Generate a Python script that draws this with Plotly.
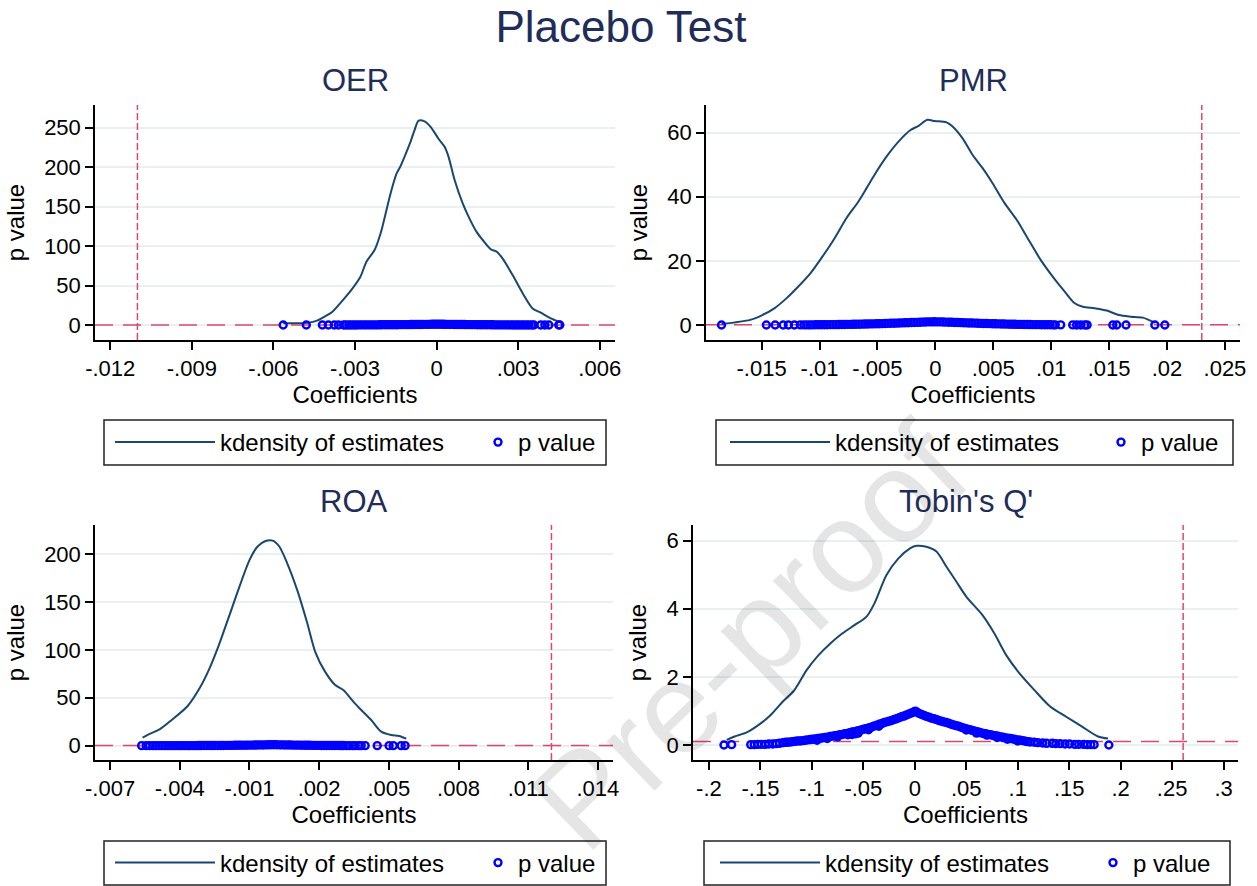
import plotly.graph_objects as go

W, H = 1257, 886

# ---------------- data ----------------
# kernel densities of the placebo estimates (coefficient, density)
oer_kd = [(-0.00564, 2.1), (-0.00471, 3.0), (-0.00440, 5.5), (-0.00412, 10.6), (-0.00383, 16.9),
          (-0.00339, 33.8), (-0.00309, 46.5), (-0.00280, 61.2), (-0.00258, 80.2), (-0.00228, 95.0),
          (-0.00206, 116.0), (-0.00184, 146.0), (-0.00169, 167.0), (-0.00147, 192.0), (-0.00133, 201.0),
          (-0.00118, 213.0), (-0.00096, 232.0), (-0.00081, 247.0), (-0.00066, 259.0), (-0.00044, 258.0),
          (-0.00022, 251.0), (0.00007, 236.0), (0.00029, 226.0), (0.00044, 213.0), (0.00066, 184.0),
          (0.00096, 154.0), (0.00118, 137.0), (0.00147, 118.0), (0.00169, 108.0), (0.00199, 96.0),
          (0.00221, 93.0), (0.00243, 84.0), (0.00280, 63.0), (0.00317, 40.0), (0.00353, 21.0),
          (0.00383, 15.6), (0.00420, 8.4), (0.00449, 4.2)]

pmr_kd = [(-0.01846, 0.3), (-0.01598, 1.6), (-0.01494, 3.1), (-0.01390, 5.2), (-0.01286, 8.3),
          (-0.01183, 12.0), (-0.01079, 16.1), (-0.00975, 21.3), (-0.00871, 27.0), (-0.00768, 33.3),
          (-0.00664, 38.5), (-0.00595, 42.6), (-0.00526, 46.8), (-0.00422, 52.5), (-0.00318, 57.2),
          (-0.00214, 60.8), (-0.00145, 62.1), (-0.00069, 64.0), (-0.00007, 63.6), (0.00097, 63.2),
          (0.00149, 61.9), (0.00235, 58.2), (0.00322, 53.0), (0.00408, 48.9), (0.00494, 44.2),
          (0.00598, 38.0), (0.00702, 32.8), (0.00806, 26.5), (0.00909, 20.3), (0.01013, 15.1),
          (0.01117, 10.4), (0.01203, 6.8), (0.01273, 5.7), (0.01376, 5.2), (0.01480, 4.5),
          (0.01584, 3.1), (0.01687, 2.6), (0.01791, 2.3), (0.01895, 0.7)]

roa_kd = [(-0.00560, 8.3), (-0.00530, 12.2), (-0.00487, 17.0), (-0.00435, 26.8), (-0.00366, 41.4),
          (-0.00315, 59.8), (-0.00272, 80.7), (-0.00229, 106.8), (-0.00186, 136.3), (-0.00143, 166.0),
          (-0.00100, 193.7), (-0.00066, 207.6), (-0.00031, 213.6), (0.00000, 214.0), (0.00029, 207.6),
          (0.00063, 190.0), (0.00106, 162.0), (0.00149, 127.7), (0.00183, 98.0), (0.00226, 77.0),
          (0.00269, 63.3), (0.00304, 58.0), (0.00347, 46.0), (0.00381, 37.2), (0.00424, 26.8),
          (0.00467, 14.6), (0.00510, 11.1), (0.00544, 10.1), (0.00575, 7.3)]

tq_kd = [(-0.1827, 0.15), (-0.1750, 0.25), (-0.1633, 0.37), (-0.1517, 0.59), (-0.1400, 0.88),
         (-0.1284, 1.27), (-0.1168, 1.62), (-0.1051, 2.20), (-0.0935, 2.64), (-0.0818, 2.99),
         (-0.0702, 3.28), (-0.0586, 3.52), (-0.0469, 3.77), (-0.0392, 4.16), (-0.0275, 4.99),
         (-0.0159, 5.48), (-0.0043, 5.78), (0.0016, 5.85), (0.0112, 5.82), (0.0210, 5.68),
         (0.0306, 5.24), (0.0403, 4.80), (0.0500, 4.36), (0.0656, 3.82), (0.0772, 3.28),
         (0.0888, 2.64), (0.1005, 2.15), (0.1160, 1.62), (0.1315, 1.13), (0.1470, 0.83),
         (0.1625, 0.54), (0.1780, 0.25), (0.1877, 0.19)]

# placebo p values: (coefficient in units of 1e-4, p value)
oer_pv = [(-56.4, 0.00), (-47.9, 0.00), (-42.0, 0.01), (-39.8, 0.01), (-37.6, 0.02), (-36.1, 0.03),
          (-34.2, 0.04), (-33.3, 0.05), (-32.3, 0.06), (-31.4, 0.07), (-30.4, 0.08), (-29.5, 0.09),
          (-28.5, 0.10), (-27.6, 0.12), (-26.6, 0.13), (-25.7, 0.14), (-24.7, 0.16), (-23.8, 0.18),
          (-22.8, 0.19), (-21.9, 0.21), (-20.9, 0.23), (-20.0, 0.25), (-19.0, 0.27), (-18.1, 0.29),
          (-17.1, 0.32), (-16.2, 0.35), (-15.2, 0.37), (-14.3, 0.40), (-13.3, 0.43), (-12.4, 0.46),
          (-11.4, 0.50), (-10.5, 0.53), (-9.5, 0.56), (-8.6, 0.60), (-7.6, 0.64), (-6.7, 0.67),
          (-5.7, 0.71), (-4.8, 0.75), (-3.8, 0.80), (-2.9, 0.84), (-1.9, 0.89), (-1.0, 0.93),
          (-0.1, 0.98), (0.8, 0.96), (1.7, 0.92), (2.7, 0.88), (3.6, 0.83), (4.6, 0.79),
          (5.5, 0.75), (6.5, 0.71), (7.4, 0.67), (8.4, 0.63), (9.3, 0.59), (10.3, 0.55),
          (11.2, 0.52), (12.2, 0.48), (13.1, 0.45), (14.1, 0.42), (15.0, 0.39), (16.0, 0.36),
          (16.9, 0.33), (17.9, 0.30), (18.8, 0.28), (19.8, 0.25), (20.7, 0.23), (21.7, 0.21),
          (22.6, 0.19), (23.6, 0.17), (24.5, 0.15), (25.5, 0.13), (26.4, 0.12), (27.4, 0.10),
          (28.3, 0.09), (29.3, 0.08), (30.2, 0.07), (31.2, 0.06), (32.1, 0.05), (33.1, 0.04),
          (34.0, 0.03), (35.0, 0.03), (35.8, 0.02), (38.3, 0.01), (39.8, 0.01), (41.3, 0.01),
          (44.9, 0.00), (45.3, 0.00)]

# (coefficient in units of 1e-4, p value)
pmr_pv = [(-184.6, 0.00), (-145.9, 0.00), (-138.3, 0.01), (-131.4, 0.01), (-126.9, 0.02), (-121.7, 0.02),
          (-116.6, 0.03), (-113.5, 0.03), (-111.0, 0.04), (-108.4, 0.04), (-106.0, 0.05), (-103.3, 0.06),
          (-100.9, 0.06), (-98.4, 0.07), (-95.8, 0.08), (-93.4, 0.09), (-90.9, 0.10), (-88.3, 0.11),
          (-85.9, 0.12), (-83.4, 0.13), (-80.8, 0.15), (-78.4, 0.16), (-75.9, 0.18), (-73.3, 0.19),
          (-70.9, 0.21), (-68.4, 0.23), (-65.8, 0.25), (-63.4, 0.27), (-60.9, 0.29), (-58.3, 0.31),
          (-55.9, 0.34), (-53.4, 0.36), (-50.8, 0.39), (-48.4, 0.41), (-45.9, 0.44), (-43.3, 0.47),
          (-40.9, 0.50), (-38.4, 0.53), (-35.8, 0.56), (-33.4, 0.59), (-30.9, 0.62), (-28.3, 0.66),
          (-25.9, 0.69), (-23.4, 0.72), (-20.8, 0.76), (-18.4, 0.79), (-15.9, 0.83), (-13.3, 0.86),
          (-10.9, 0.90), (-8.4, 0.93), (-5.8, 0.96), (-3.4, 0.98), (-0.9, 0.99), (1.6, 0.98),
          (4.2, 0.96), (6.6, 0.93), (9.1, 0.90), (11.7, 0.87), (14.1, 0.84), (16.6, 0.80),
          (19.2, 0.77), (21.6, 0.74), (24.1, 0.70), (26.7, 0.67), (29.1, 0.64), (31.6, 0.61),
          (34.2, 0.57), (36.6, 0.54), (39.1, 0.51), (41.7, 0.48), (44.1, 0.45), (46.6, 0.43),
          (49.2, 0.40), (51.6, 0.37), (54.1, 0.35), (56.7, 0.32), (59.1, 0.30), (61.6, 0.28),
          (64.2, 0.25), (66.6, 0.23), (69.1, 0.21), (71.7, 0.20), (74.1, 0.18), (76.6, 0.16),
          (79.2, 0.15), (81.6, 0.13), (84.1, 0.12), (86.7, 0.11), (89.1, 0.10), (91.6, 0.09),
          (94.2, 0.08), (96.6, 0.07), (99.1, 0.06), (101.7, 0.05), (103.5, 0.05), (108.2, 0.04),
          (118.6, 0.03), (122.0, 0.02), (125.5, 0.02), (129.0, 0.02), (131.0, 0.02), (153.2, 0.01),
          (156.6, 0.01), (164.6, 0.01), (189.5, 0.00), (198.1, 0.00)]

# (coefficient in units of 1e-4, p value)
roa_pv = [(-56.4, 0.00), (-54.5, 0.00), (-53.0, 0.01), (-51.6, 0.01), (-50.4, 0.01), (-49.1, 0.01),
          (-47.8, 0.02), (-46.5, 0.02), (-45.2, 0.02), (-44.0, 0.03), (-42.8, 0.03), (-41.6, 0.04),
          (-40.3, 0.04), (-39.3, 0.05), (-38.0, 0.06), (-36.7, 0.06), (-35.7, 0.07), (-34.4, 0.08),
          (-33.1, 0.09), (-32.0, 0.10), (-30.8, 0.11), (-29.5, 0.13), (-28.4, 0.14), (-27.1, 0.16),
          (-26.0, 0.17), (-24.9, 0.19), (-23.6, 0.21), (-22.3, 0.23), (-21.2, 0.25), (-20.0, 0.28),
          (-18.7, 0.30), (-17.6, 0.33), (-16.4, 0.36), (-15.1, 0.39), (-14.0, 0.42), (-12.8, 0.46),
          (-11.5, 0.50), (-10.4, 0.54), (-9.2, 0.58), (-7.9, 0.62), (-6.8, 0.67), (-5.6, 0.72),
          (-4.3, 0.77), (-3.2, 0.82), (-2.0, 0.88), (-0.7, 0.94), (0.4, 0.99), (1.6, 0.93),
          (2.9, 0.87), (4.0, 0.81), (5.2, 0.76), (6.5, 0.71), (7.6, 0.66), (8.8, 0.61),
          (10.1, 0.56), (11.2, 0.52), (12.4, 0.48), (13.7, 0.44), (14.8, 0.40), (16.0, 0.37),
          (17.3, 0.34), (18.4, 0.31), (19.6, 0.28), (20.9, 0.25), (22.0, 0.23), (23.2, 0.20),
          (24.5, 0.18), (25.6, 0.16), (26.8, 0.14), (28.1, 0.13), (29.2, 0.11), (30.4, 0.10),
          (31.8, 0.09), (33.0, 0.08), (34.5, 0.07), (35.5, 0.06), (37.0, 0.05), (38.1, 0.05),
          (39.8, 0.04), (45.0, 0.03), (50.1, 0.02), (51.9, 0.02), (55.3, 0.01), (57.0, 0.00)]

# (coefficient in units of 1e-3, p value)
tq_pv = [(-185.4, 0.00), (-178.0, 0.01), (-159.4, 0.01), (-156.0, 0.01), (-152.5, 0.02), (-149.0, 0.02),
         (-145.3, 0.02), (-141.8, 0.03), (-138.0, 0.03), (-134.6, 0.04), (-131.5, 0.05), (-128.0, 0.07),
         (-125.5, 0.08), (-123.2, 0.08), (-120.6, 0.09), (-118.4, 0.10), (-115.9, 0.11), (-113.5, 0.12),
         (-111.2, 0.12), (-108.7, 0.13), (-106.3, 0.14), (-104.0, 0.15), (-101.5, 0.16), (-99.1, 0.17),
         (-96.8, 0.18), (-95.0, 0.14), (-94.3, 0.19), (-91.9, 0.20), (-89.6, 0.21), (-87.2, 0.22),
         (-85.0, 0.19), (-84.7, 0.23), (-82.4, 0.25), (-80.0, 0.26), (-77.6, 0.27), (-75.2, 0.28),
         (-75.0, 0.24), (-72.9, 0.30), (-70.4, 0.31), (-68.1, 0.33), (-65.7, 0.34), (-65.0, 0.30),
         (-63.2, 0.36), (-61.0, 0.31), (-60.9, 0.38), (-58.5, 0.39), (-57.5, 0.33), (-56.0, 0.41),
         (-55.0, 0.35), (-53.7, 0.43), (-51.3, 0.45), (-48.9, 0.47), (-46.5, 0.49), (-45.0, 0.45),
         (-44.1, 0.51), (-41.7, 0.53), (-39.3, 0.56), (-36.9, 0.58), (-35.0, 0.55), (-34.5, 0.61),
         (-32.1, 0.63), (-29.7, 0.66), (-27.3, 0.68), (-24.9, 0.70), (-22.5, 0.72), (-20.1, 0.75),
         (-17.7, 0.77), (-15.3, 0.80), (-12.9, 0.83), (-10.5, 0.85), (-8.1, 0.88), (-5.7, 0.91),
         (-3.3, 0.94), (-1.0, 0.97), (0.4, 0.99), (1.8, 0.97), (4.1, 0.93), (6.5, 0.90),
         (8.9, 0.87), (11.3, 0.84), (13.7, 0.82), (16.1, 0.79), (18.5, 0.77), (20.9, 0.75),
         (23.3, 0.72), (25.7, 0.70), (28.1, 0.68), (30.5, 0.66), (32.9, 0.64), (35.3, 0.61),
         (37.7, 0.59), (40.1, 0.57), (42.5, 0.55), (44.9, 0.52), (47.3, 0.50), (49.7, 0.48),
         (50.0, 0.44), (52.1, 0.46), (54.5, 0.44), (56.9, 0.42), (59.3, 0.40), (60.0, 0.35),
         (61.7, 0.38), (64.1, 0.36), (66.5, 0.34), (68.9, 0.33), (70.0, 0.29), (71.3, 0.31),
         (73.7, 0.30), (76.1, 0.28), (78.5, 0.27), (80.0, 0.22), (80.9, 0.26), (83.3, 0.24),
         (85.7, 0.23), (88.1, 0.21), (90.0, 0.17), (90.5, 0.20), (92.9, 0.19), (95.3, 0.18),
         (97.7, 0.16), (100.0, 0.12), (100.1, 0.15), (102.5, 0.14), (104.9, 0.13), (107.3, 0.11),
         (109.7, 0.10), (112.1, 0.09), (116.0, 0.08), (119.5, 0.07), (124.2, 0.06), (128.0, 0.05),
         (133.5, 0.05), (137.0, 0.04), (141.2, 0.04), (146.0, 0.03), (150.3, 0.03), (155.5, 0.02),
         (159.2, 0.02), (164.0, 0.02), (167.5, 0.01), (171.0, 0.01), (174.2, 0.01), (188.5, 0.00)]

# actual (true) coefficient lines and p value threshold
true_coef = [-0.011, 0.023, 0.012, 0.2607]
p_threshold = 0.1

panel_titles = ["OER", "PMR", "ROA", "Tobin's Q'"]

x_ticks = [[-0.012, -0.009, -0.006, -0.003, 0, 0.003, 0.006],
           [-0.015, -0.01, -0.005, 0, 0.005, 0.01, 0.015, 0.02, 0.025],
           [-0.007, -0.004, -0.001, 0.002, 0.005, 0.008, 0.011, 0.014],
           [-0.2, -0.15, -0.1, -0.05, 0, 0.05, 0.1, 0.15, 0.2, 0.25, 0.3]]
x_ticktext = [["-.012", "-.009", "-.006", "-.003", "0", ".003", ".006"],
              ["-.015", "-.01", "-.005", "0", ".005", ".01", ".015", ".02", ".025"],
              ["-.007", "-.004", "-.001", ".002", ".005", ".008", ".011", ".014"],
              ["-.2", "-.15", "-.1", "-.05", "0", ".05", ".1", ".15", ".2", ".25", ".3"]]
y_ticks = [[0, 50, 100, 150, 200, 250],
           [0, 20, 40, 60],
           [0, 50, 100, 150, 200],
           [0, 2, 4, 6]]

# ---------------- layout geometry (pixels) ----------------
px_boxes = [(95, 615, 105, 340), (706, 1240, 105, 340),
            (95, 613, 525, 760), (693, 1238, 525, 760)]
x_ranges = [[-0.01256, 0.00656], [-0.0198, 0.0263], [-0.00765, 0.01465], [-0.2155, 0.314]]
y_ranges = [[-19.0, 278.7], [-4.68, 68.6], [-14.96, 230.3], [-0.44, 6.46]]
legend_boxes = [(104, 606, 420, 465), (716, 1233, 420, 465),
                (104, 606, 841, 885), (704, 1230, 841, 885)]
legend_item_x = [(110, 478), (725, 1101), (110, 478), (715, 1093)]

NAVY = "#1a476f"
TITLE_C = "#1f2d58"
RED = "#e0466f"
BLUE = "#0000ff"
GRID = "#e8f0f2"
FONT = "Liberation Sans, Arial, sans-serif"


def px2x(px):
    return px / W


def px2y(py):
    return 1 - py / H


kds = [oer_kd, pmr_kd, roa_kd, tq_kd]
pvs = [oer_pv, pmr_pv, roa_pv, tq_pv]
pv_units = [1e-4, 1e-4, 1e-4, 1e-3]

fig = go.Figure()
layout = {}
shapes = []
annotations = []

for i in range(4):
    sfx = "" if i == 0 else str(i + 1)
    xa, ya = "x" + sfx, "y" + sfx
    lg_kd = "legend" if i == 0 else "legend" + str(2 * i + 1)
    lg_pv = "legend" + str(2 * i + 2)

    kd_x = [c for c, d in kds[i]]
    kd_y = [d for c, d in kds[i]]
    pv_x = [c * pv_units[i] for c, p in pvs[i]]
    pv_y = [p for c, p in pvs[i]]

    # reference lines: true coefficient (vertical) and p = 0.1 (horizontal)
    fig.add_trace(go.Scatter(x=[true_coef[i], true_coef[i]], y=y_ranges[i], mode="lines",
                             line=dict(color=RED, width=1.5, dash="7px,3px"), showlegend=False,
                             xaxis=xa, yaxis=ya, hoverinfo="skip"))
    fig.add_trace(go.Scatter(x=x_ranges[i], y=[p_threshold, p_threshold], mode="lines",
                             line=dict(color=RED, width=1.5, dash="18px,10px"), showlegend=False,
                             xaxis=xa, yaxis=ya, hoverinfo="skip"))

    fig.add_trace(go.Scatter(x=kd_x, y=kd_y, mode="lines", name="kdensity of estimates",
                             line=dict(color=NAVY, width=2, shape="spline", smoothing=0.8),
                             xaxis=xa, yaxis=ya, legend=lg_kd, hoverinfo="skip"))
    fig.add_trace(go.Scatter(x=pv_x, y=pv_y, mode="markers", name="p value",
                             marker=dict(symbol="circle-open", size=7, color=BLUE,
                                         line=dict(width=2.4, color=BLUE)),
                             xaxis=xa, yaxis=ya, legend=lg_pv, hoverinfo="skip"))

    x0, x1, y0, y1 = px_boxes[i]
    axis_common = dict(ticks="outside", ticklen=8, tickwidth=1.5, tickcolor="black",
                       showline=True, linecolor="black", linewidth=1.5, zeroline=False,
                       tickfont=dict(size=22, color="black", family=FONT), automargin=False)
    layout["xaxis" + sfx] = dict(domain=[px2x(x0), px2x(x1)], range=x_ranges[i], anchor=ya,
                                 tickmode="array", tickvals=x_ticks[i], ticktext=x_ticktext[i],
                                 showgrid=False,
                                 title=dict(text="Coefficients", standoff=0,
                                            font=dict(size=24, color="black", family=FONT)),
                                 **axis_common)
    layout["yaxis" + sfx] = dict(domain=[px2y(y1), px2y(y0)], range=y_ranges[i], anchor=xa,
                                 tickmode="array", tickvals=y_ticks[i],
                                 showgrid=True, gridcolor=GRID, gridwidth=1.5,
                                 title=dict(text="p value", standoff=13,
                                            font=dict(size=24, color="black", family=FONT)),
                                 **axis_common)

    # legend frame
    bx0, bx1, by0, by1 = legend_boxes[i]
    shapes.append(dict(type="rect", xref="paper", yref="paper", x0=px2x(bx0), x1=px2x(bx1),
                       y0=px2y(by1), y1=px2y(by0), line=dict(color="#222222", width=1.5),
                       fillcolor="rgba(0,0,0,0)"))
    ymid = px2y((by0 + by1) / 2)
    kx, pxv = legend_item_x[i]
    layout[lg_kd] = dict(x=px2x(kx), y=ymid, xanchor="left", yanchor="middle",
                         bgcolor="rgba(0,0,0,0)", borderwidth=0, itemwidth=100,
                         font=dict(size=24, color="black", family=FONT))
    layout[lg_pv] = dict(x=px2x(pxv), y=ymid, xanchor="left", yanchor="middle",
                         bgcolor="rgba(0,0,0,0)", borderwidth=0, itemwidth=30,
                         font=dict(size=24, color="black", family=FONT))

    # panel title
    annotations.append(dict(text=panel_titles[i], xref="paper", yref="paper",
                            x=px2x((x0 + x1) / 2), y=px2y(y0 - 24), xanchor="center",
                            yanchor="middle", showarrow=False,
                            font=dict(size=31, color=TITLE_C, family=FONT)))

# journal watermark
annotations.append(dict(text="Pre-proof", xref="paper", yref="paper",
                        x=px2x(750), y=px2y(636), xanchor="center", yanchor="middle",
                        showarrow=False, textangle=-44,
                        font=dict(size=130, color="rgba(0,0,0,0.10)", family=FONT)))

fig.update_layout(
    width=W, height=H,
    margin=dict(l=0, r=0, t=0, b=0),
    paper_bgcolor="white", plot_bgcolor="white",
    showlegend=True,
    title=dict(text="Placebo Test", x=px2x(621), y=px2y(27), xanchor="center", yanchor="middle",
               font=dict(size=44, color=TITLE_C, family=FONT)),
    shapes=shapes, annotations=annotations,
    **layout,
)

fig.write_html("out.html", config={"displayModeBar": False},
               post_script="document.body.style.margin='0px';document.body.style.overflow='hidden';")
